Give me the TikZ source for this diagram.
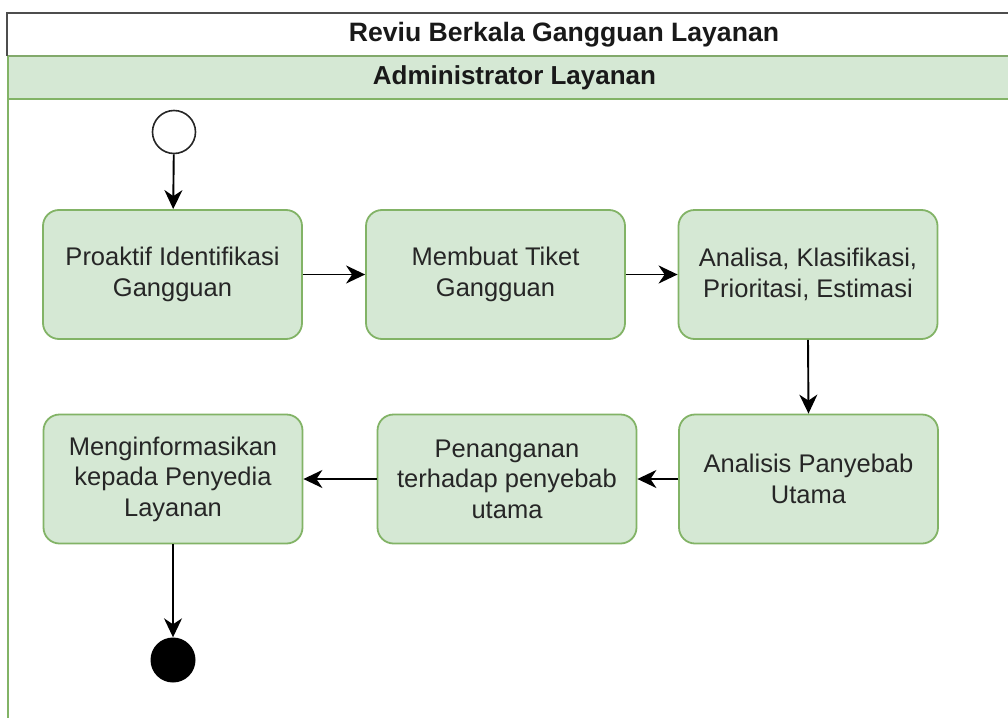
\documentclass[tikz,border=0pt]{standalone}
\usepackage{fontspec}
\setmainfont{Liberation Sans}
\usetikzlibrary{arrows.meta}
\definecolor{actfill}{HTML}{D5E8D4}
\definecolor{actline}{HTML}{82B366}
\definecolor{poolline}{HTML}{4D4D4D}
\tikzset{
  activity/.style={draw=actline, fill=actfill, line width=1.8pt, rounded corners=16pt,
    minimum width=259pt, minimum height=129pt, align=center, text=black!85,
    font=\fontsize{25.5}{30.5}\selectfont, inner sep=0pt},
  flow/.style={line width=1.9pt, -{Stealth[length=19pt, width=18pt, inset=6pt]}},
  headtext/.style={font=\bfseries\fontsize{26}{30}\selectfont, text=black!90, inner sep=0pt},
  startnode/.style={circle, draw=black!85, fill=white, line width=1.6pt, minimum size=43pt, inner sep=0pt},
  endnode/.style={circle, fill=black, minimum size=45pt, inner sep=0pt}
}
\begin{document}
\begin{tikzpicture}[x=1pt, y=-1pt]
  \useasboundingbox (0,0) rectangle (1008,717);
  % pool title row
  \fill[white] (7,13) rectangle (1020,56);
  % lane header
  \fill[actfill] (7,56) rectangle (1020,99);
  \draw[actline!80!gray, line width=1.6pt] (7,56) -- (1020,56);
  \draw[actline, line width=1.6pt] (7,99) -- (1020,99);
  % lane body border
  \draw[actline, line width=1.8pt] (8,56) -- (8,730);
  % pool frame
  \draw[poolline, line width=1.8pt] (1020,13) -- (7,13) -- (7,56);

  \node[headtext, font=\bfseries\fontsize{26.6}{30}\selectfont] (title) at (564,35) {Reviu Berkala Gangguan Layanan};
  \node[headtext] (lane) at (514.5,78) {Administrator Layanan};

  \node[startnode] (start) at (174,132) {};
  \node[activity] (a1) at (172.5,274.5) {Proaktif Identifikasi\\Gangguan};
  \node[activity] (a2) at (495.5,274.5) {Membuat Tiket\\Gangguan};
  \node[activity] (a3) at (808,274.5) {Analisa, Klasifikasi,\\Prioritasi, Estimasi};
  \node[activity] (a4) at (808.5,479) {Analisis Panyebab\\Utama};
  \node[activity] (a5) at (507,479) {Penanganan\\terhadap penyebab\\utama};
  \node[activity] (a6) at (173,479) {Menginformasikan\\kepada Penyedia\\Layanan};
  \node[endnode] (stop) at (173,660) {};

  \draw[flow] (start) -- (a1);
  \draw[flow] (a1) -- (a2);
  \draw[flow] (a2) -- (a3);
  \draw[flow] (a3.south) -- (a4.north);
  \draw[flow] (a4) -- (a5);
  \draw[flow] (a5) -- (a6);
  \draw[flow] (a6) -- (stop);
\end{tikzpicture}
\end{document}
